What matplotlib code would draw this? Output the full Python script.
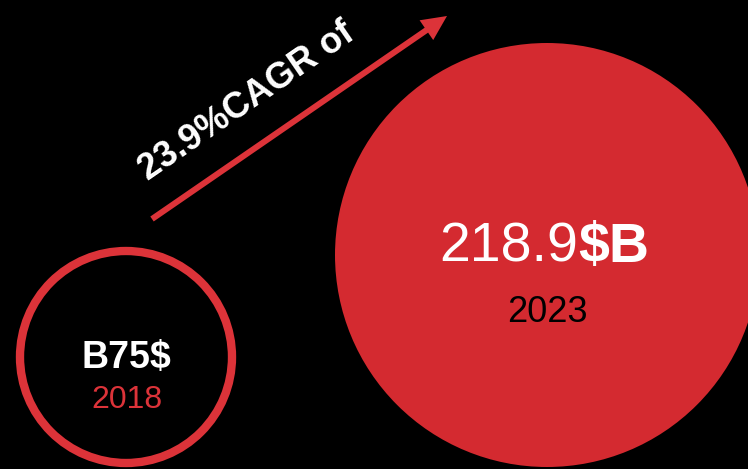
import matplotlib
matplotlib.use('Agg')
from matplotlib import pyplot as plt
from matplotlib.patches import Circle

years = [2018, 2023]
values = [75, 218.9]
cagr = 23.9

red = '#d42a30'
ring_red = '#dc3339'

fig = plt.figure(figsize=(7.48, 4.69), dpi=100, facecolor='black')
ax = fig.add_axes([0, 0, 1, 1])
ax.set_facecolor('black')
ax.set_xlim(0, 748)
ax.set_ylim(469, 0)
ax.set_aspect('equal')
ax.axis('off')

font = 'Liberation Sans'

# 2018 ring
ax.add_patch(Circle((126, 357), 106, facecolor='black', edgecolor=ring_red, lw=6))
ax.text(126, 368, f'B{values[0]:g}$', color='white', fontsize=27, fontweight='bold',
        family=font, ha='center', va='baseline')
ax.text(127, 408, str(years[0]), color=ring_red, fontsize=23, family=font,
        ha='center', va='baseline')

# 2023 disc
ax.add_patch(Circle((547, 255), 212, facecolor=red, edgecolor='none'))
ax.text(578, 262, f'{values[1]:g}', color='white', fontsize=40, family=font,
        ha='right', va='baseline')
ax.text(578, 262, '$B', color='white', fontsize=40, fontweight='bold', family=font,
        ha='left', va='baseline')
ax.text(547, 322, str(years[1]), color='black', fontsize=26, family=font,
        ha='center', va='baseline')

# growth arrow
ax.arrow(152, 219, 295, -203, width=6, head_width=24, head_length=25,
         length_includes_head=True, color=ring_red, lw=0)
ax.text(247, 102, f'{cagr}%CAGR of', color='white', fontsize=26, fontweight='bold',
        family=font, rotation=34.5, rotation_mode='anchor', ha='center', va='center')

fig.savefig('out.png', dpi=100, facecolor='black')
